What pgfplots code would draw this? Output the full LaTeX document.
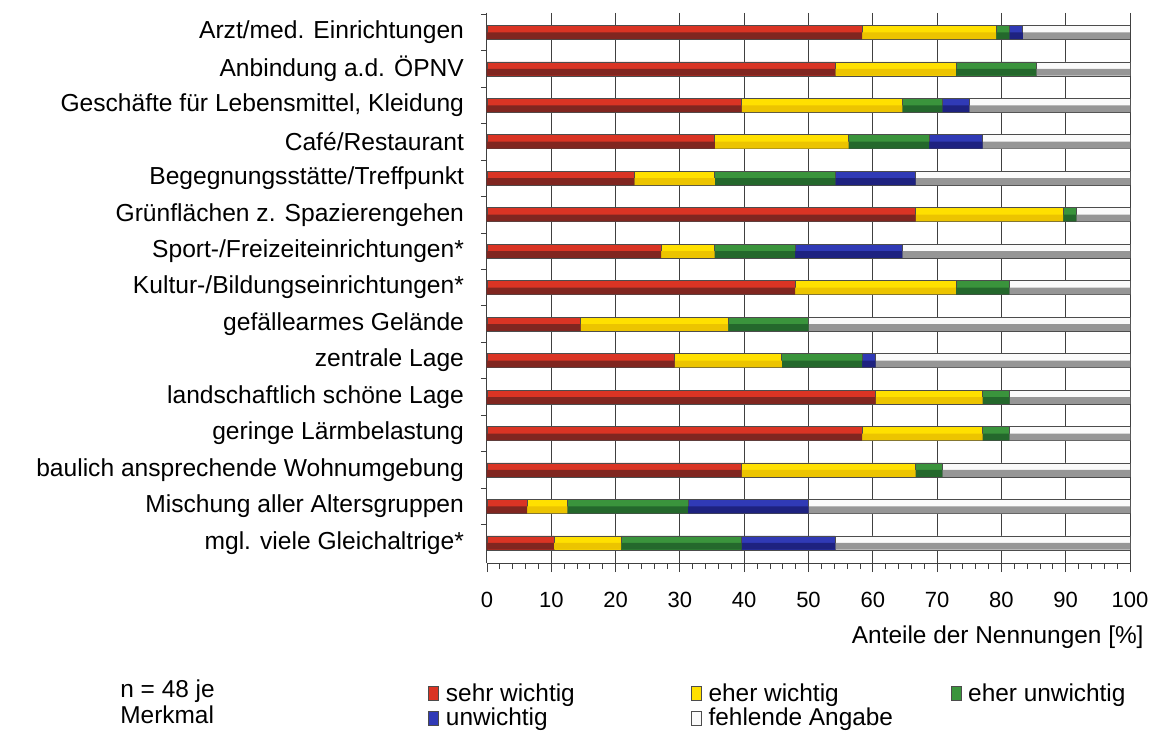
\documentclass[border=0pt]{standalone}
\usepackage{fontspec}
\setmainfont{Liberation Sans}
\usepackage{pgfplots}
\pgfplotsset{compat=1.18}
\usepackage{pgfplotstable}

\definecolor{rM}{RGB}{218,52,36}\definecolor{rB}{RGB}{128,38,32}
\definecolor{yM}{RGB}{255,224,0}\definecolor{yB}{RGB}{236,196,0}
\definecolor{gM}{RGB}{58,148,60}\definecolor{gB}{RGB}{36,104,44}
\definecolor{bM}{RGB}{48,58,182}\definecolor{bB}{RGB}{30,34,128}
\definecolor{fM}{RGB}{250,250,250}\definecolor{fB}{RGB}{150,150,150}

% shares in % (n = 48)
\pgfplotstableread{
y sw ew eu uw fa
1 58.33 20.83 2.08 2.08 16.67
2 54.17 18.75 12.50 0 14.58
3 39.58 25.00 6.25 4.17 25.00
4 35.42 20.83 12.50 8.33 22.92
5 22.92 12.50 18.75 12.50 33.33
6 66.67 22.92 2.08 0 8.33
7 27.08 8.33 12.50 16.67 35.42
8 47.92 25.00 8.33 0 18.75
9 14.58 22.92 12.50 0 50.00
10 29.17 16.67 12.50 2.08 39.58
11 60.42 16.67 4.17 0 18.75
12 58.33 18.75 4.17 0 18.75
13 39.58 27.08 4.17 0 29.17
14 6.25 6.25 18.75 18.75 50.00
15 10.42 10.42 18.75 14.58 45.83
}\data

\pgfplotsset{frame/.style={
  at={(0,0)}, anchor=south west,
  scale only axis, width=321.5pt, height=275pt,
  xmin=0, xmax=100, ymin=0.47, ymax=15.55, y dir=reverse}}

\begin{document}
\begin{tikzpicture}
\useasboundingbox (-243.5pt,-84pt) rectangle (335pt,281.5pt);
\begin{axis}[
  frame,
  xbar stacked, bar width=7pt,
  axis x line*=bottom, axis y line*=left,
  axis line style={black!75, line width=0.5pt},
  xtick={0,10,...,100}, minor x tick num=4,
  ytick={1,...,15},
  minor ytick={0.5,1.5,...,14.5},
  major y tick style={draw=none},
  tick align=outside,
  major tick length=4.5pt, minor tick length=3pt,
  tick style={black!75, line width=0.4pt},
  xmajorgrids, major grid style={black!75, line width=0.5pt},
  yticklabels={Arzt/med. Einrichtungen, Anbindung a.d. ÖPNV, {Geschäfte für Lebensmittel, Kleidung}, Café/Restaurant, Begegnungsstätte/Treffpunkt, Grünflächen z. Spazierengehen, Sport-/Freizeiteinrichtungen*, Kultur-/Bildungseinrichtungen*, gefällearmes Gelände, zentrale Lage, landschaftlich schöne Lage, geringe Lärmbelastung, baulich ansprechende Wohnumgebung, Mischung aller Altersgruppen, mgl. viele Gleichaltrige*},
  yticklabel style={font=\fontsize{12.3}{14}\selectfont, anchor=east, xshift=-3.5pt},
  xticklabel style={font=\fontsize{11}{13}\selectfont, yshift=-6.5pt},
  /pgf/number format/assume math mode=true,
  xlabel={Anteile der Nennungen [\%]},
  xlabel style={at={(axis description cs:1,0)}, anchor=east, xshift=7pt, yshift=-37pt, font=\fontsize{12.2}{14}\selectfont, inner sep=0pt},
  legend columns=3,
  legend cell align=left,
  legend style={draw=none, fill=none, at={(0,0)}, anchor=north west, xshift=-32.5pt, yshift=-56pt,
    font=\fontsize{12.2}{13}\selectfont, row sep=-2pt, column sep=0pt,
    /tikz/every odd column/.style={column sep=1.5pt}},
  legend image code/.code={\draw[#1, line width=0.3pt] (0pt,-3.5pt) rectangle (5pt,3.5pt);},
  every axis plot/.append style={draw=black!70, line width=0.3pt},
]
\addplot[fill=rM] table[x=sw, y=y] {\data};
\addplot[fill=yM] table[x=ew, y=y] {\data};
\addplot[fill=gM] table[x=eu, y=y] {\data};
\addplot[fill=bM] table[x=uw, y=y] {\data};
\addplot[fill=fM] table[x=fa, y=y] {\data};
\legend{\makebox[120.5pt][l]{sehr wichtig}, \makebox[119pt][l]{eher wichtig}, eher unwichtig, unwichtig, fehlende Angabe}
\end{axis}
% darker lower half of each bar segment (bevel look)
\begin{axis}[frame, hide axis, xbar stacked, bar width=3.4pt, bar shift=-1.7pt,
  every axis plot/.append style={draw=none}]
\addplot[fill=rB] table[x=sw, y=y] {\data};
\addplot[fill=yB] table[x=ew, y=y] {\data};
\addplot[fill=gB] table[x=eu, y=y] {\data};
\addplot[fill=bB] table[x=uw, y=y] {\data};
\addplot[fill=fB] table[x=fa, y=y] {\data};
\end{axis}
\node[anchor=base west, align=left, inner sep=0pt, font=\fontsize{12.2}{13}\selectfont] at (-183.5pt,-80.5pt) {n = 48 je\\Merkmal};
\end{tikzpicture}
\end{document}
